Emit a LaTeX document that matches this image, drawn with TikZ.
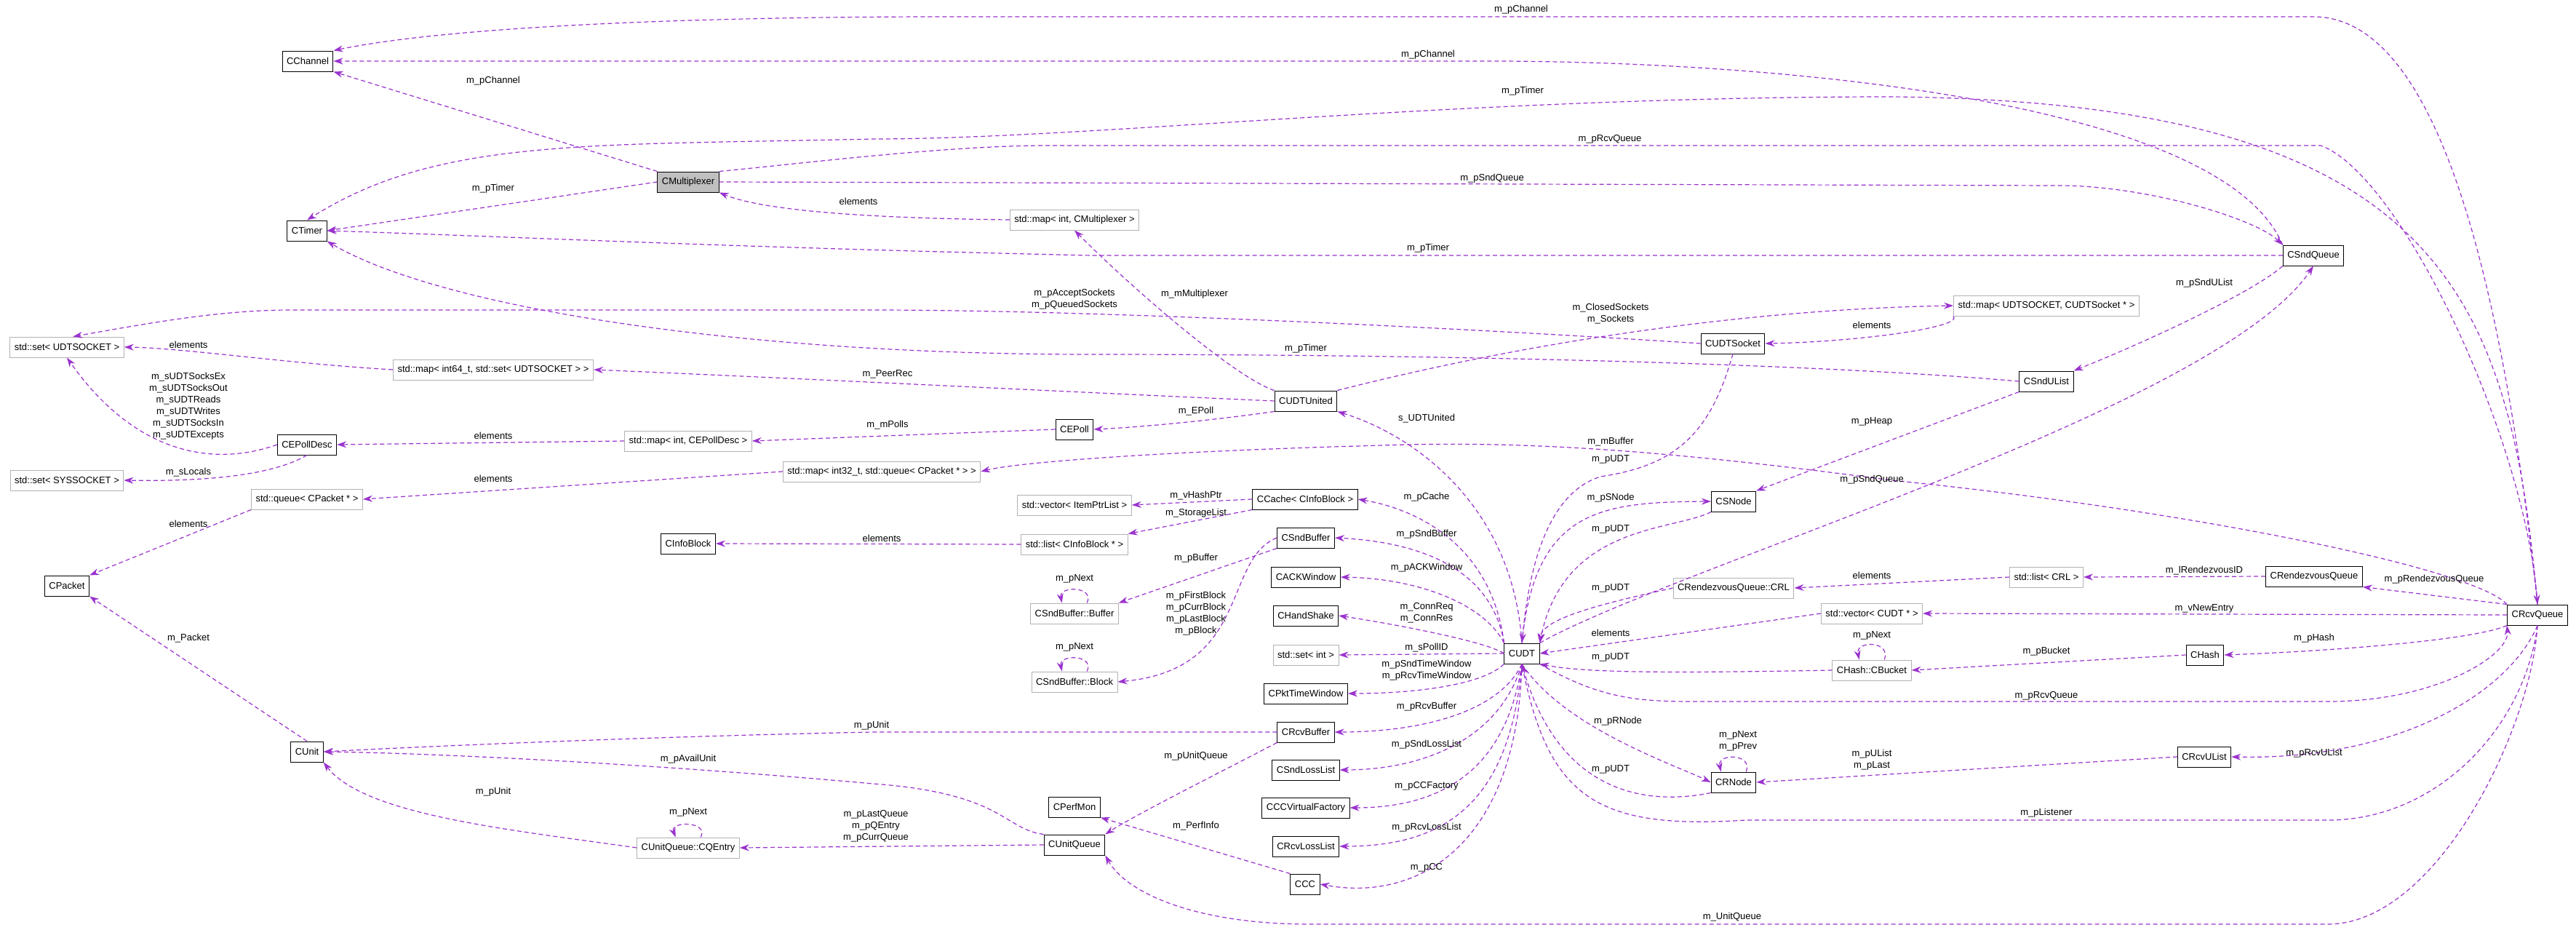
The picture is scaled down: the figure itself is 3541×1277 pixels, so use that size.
\documentclass[tikz,border=0pt]{standalone}
\usepackage{fontspec}
\setmainfont{Liberation Sans}
\usetikzlibrary{arrows.meta}
\definecolor{linkc}{HTML}{9A32CD}
\tikzset{
  cls/.style = {draw=black, line width=1pt, fill=white, minimum height=28pt, inner xsep=6pt, font=\fontsize{13}{15}\selectfont},
  tpl/.style = {cls, draw=black!30},
  rel/.style = {draw=linkc, dash pattern=on 6pt off 4pt, line width=1.2pt, -{Stealth[length=13pt,width=9pt]}},
  lbl/.style = {font=\fontsize{13}{16}\selectfont, inner sep=1pt, align=center}
}
\begin{document}
\begin{tikzpicture}[x=1pt, y=-1pt]
\useasboundingbox (0,0) rectangle (3541,1277);
\begin{scope}[every node/.style = {cls}]
\node (CChannel) at (423,84) {CChannel};
\node (CTimer) at (422,317) {CTimer};
\node[fill=black!25] (CMux) at (946,250) {CMultiplexer};
\node[tpl] (mapMux) at (1477,302) {std::map< int, CMultiplexer >};
\node (CSndQueue) at (3180,351) {CSndQueue};
\node[tpl] (setUDT) at (92,477) {std::set< UDTSOCKET >};
\node[tpl] (mapPeer) at (678,508) {std::map< int64\_t, std::set< UDTSOCKET > >};
\node (CUDTSocket) at (2382,472) {CUDTSocket};
\node[tpl] (mapSock) at (2813,420) {std::map< UDTSOCKET, CUDTSocket * >};
\node (CSndUList) at (2813,524) {CSndUList};
\node (CUDTUnited) at (1795,551) {CUDTUnited};
\node (CEPoll) at (1477,590) {CEPoll};
\node[tpl] (mapEPoll) at (946,606) {std::map< int, CEPollDesc >};
\node (CEPollDesc) at (422,611) {CEPollDesc};
\node[tpl] (setSys) at (92,660) {std::set< SYSSOCKET >};
\node[tpl] (mapBuf) at (1212,648) {std::map< int32\_t, std::queue< CPacket * > >};
\node[tpl] (queuePkt) at (422,686) {std::queue< CPacket * >};
\node[tpl] (vecHash) at (1477,694) {std::vector< ItemPtrList >};
\node (CCache) at (1794,686) {CCache< CInfoBlock >};
\node (CSNode) at (2383,689) {CSNode};
\node[tpl] (listInfo) at (1477,748) {std::list< CInfoBlock * >};
\node (CInfoBlock) at (946,747) {CInfoBlock};
\node (CSndBuffer) at (1795,739) {CSndBuffer};
\node (CACKWindow) at (1795,793) {CACKWindow};
\node[tpl] (Buffer) at (1477,843) {CSndBuffer::Buffer};
\node[tpl] (CRL) at (2383,808) {CRendezvousQueue::CRL};
\node[tpl] (listCRL) at (2813,793) {std::list< CRL >};
\node (CRendQ) at (3181,792) {CRendezvousQueue};
\node (CRcvQueue) at (3488,845) {CRcvQueue};
\node[tpl] (vecUDT) at (2573,843) {std::vector< CUDT * >};
\node (CHandShake) at (1795,846) {CHandShake};
\node (CUDT) at (2092,898) {CUDT};
\node[tpl] (setInt) at (1795,900) {std::set< int >};
\node[tpl] (CBucket) at (2573,921) {CHash::CBucket};
\node (CHash) at (3031,900) {CHash};
\node[tpl] (Block) at (1477,937) {CSndBuffer::Block};
\node (CPktTW) at (1795,953) {CPktTimeWindow};
\node (CPacket) at (92,805) {CPacket};
\node (CRcvBuffer) at (1795,1006) {CRcvBuffer};
\node (CUnit) at (422,1033) {CUnit};
\node (CSndLL) at (1795,1058) {CSndLossList};
\node (CRNode) at (2383,1075) {CRNode};
\node (CRcvUList) at (3030,1040) {CRcvUList};
\node (CPerfMon) at (1477,1109) {CPerfMon};
\node (CCCVF) at (1795,1110) {CCCVirtualFactory};
\node (CUnitQueue) at (1477,1161) {CUnitQueue};
\node (CRcvLL) at (1795,1163) {CRcvLossList};
\node[tpl] (CQEntry) at (946,1165) {CUnitQueue::CQEntry};
\node (CCC) at (1794,1215) {CCC};
\end{scope}
\begin{scope}[every path/.style = {rel}]
% multiplexer and queues
\path (CMux.north west) -- (CChannel.south east);
\path (CMux.west) -- (CTimer.east);
\path (CSndQueue.north west) .. controls (3050,130) and (2400,84) .. (2050,84) -- (CChannel.east);
\path (CRcvQueue.north) .. controls (3420,200) and (3300,23) .. (3180,23) -- (1300,23) .. controls (900,23) and (600,40) .. (CChannel.north east);
\path (CRcvQueue.north) .. controls (3450,400) and (3350,140) .. (2600,133) .. controls (2000,133) and (1500,191) .. (1200,191) .. controls (800,200) and (600,190) .. (CTimer.north);
\path (CMux.north east) .. controls (1100,225) and (1300,200) .. (1440,200) -- (3190,200) .. controls (3300,240) and (3470,600) .. (CRcvQueue.north);
\path (CMux.east) -- (2830,255) .. controls (2950,255) and (3100,300) .. (CSndQueue.north west);
\path (mapMux.west) .. controls (1200,300) and (1050,290) .. (CMux.south east);
\path (CSndQueue.west) -- (1500,351) .. controls (1000,340) and (700,325) .. (CTimer.east);
% sockets and polls
\path (CUDTUnited.north west) .. controls (1700,520) and (1560,400) .. (mapMux.south);
\path (CUDTSocket.west) .. controls (2000,450) and (1500,426) .. (1200,426) -- (400,426) .. controls (300,426) and (200,445) .. (setUDT.60);
\path (CUDTUnited.north east) .. controls (2100,470) and (2400,425) .. (mapSock.west);
\path (mapSock.south west) .. controls (2700,450) and (2550,470) .. (CUDTSocket.east);
\path (CSndUList.west) .. controls (2500,500) and (2000,487) .. (1500,487) .. controls (1000,487) and (600,420) .. (CTimer.south east);
\path (CSndQueue.south west) .. controls (3100,400) and (2950,470) .. (CSndUList.north east);
\path (mapPeer.west) .. controls (400,500) and (250,478) .. (setUDT.east);
\path (CUDTUnited.west) .. controls (1500,540) and (1100,520) .. (mapPeer.east);
\path (CUDTUnited.south west) .. controls (1650,580) and (1550,588) .. (CEPoll.east);
\path (CEPoll.west) -- (mapEPoll.east);
\path (mapEPoll.west) -- (CEPollDesc.east);
\path (CEPollDesc.west) .. controls (300,640) and (190,630) .. (setUDT.south);
\path (CEPollDesc.south) .. controls (380,650) and (300,662) .. (setSys.east);
% buffers and packets
\path (CRcvQueue.north west) .. controls (3400,780) and (3000,700) .. (2600,660) .. controls (2300,620) and (2100,605) .. (1900,612) .. controls (1600,620) and (1400,635) .. (mapBuf.east);
\path (mapBuf.west) -- (queuePkt.east);
\path (queuePkt.south west) -- (CPacket.north east);
\path (CUDT.north) .. controls (2080,700) and (1950,600) .. (CUDTUnited.south east);
\path (CUDTSocket.south) .. controls (2350,600) and (2300,640) .. (2200,655) .. controls (2120,680) and (2100,800) .. (CUDT.north);
\path (CUDT.north east) .. controls (2300,780) and (3050,560) .. (CSndQueue.south);
\path (CSndUList.south west) -- (CSNode.north east);
\path (CUDT.north) .. controls (2110,700) and (2200,690) .. (CSNode.west);
\path (CSNode.south west) .. controls (2300,730) and (2150,720) .. (CUDT.north east);
\path (CUDT.north west) .. controls (2050,750) and (1950,700) .. (CCache.east);
\path (CCache.west) -- (vecHash.east);
\path (CCache.south west) -- (listInfo.north east);
\path (listInfo.west) -- (CInfoBlock.east);
\path (CUDT.north west) .. controls (2050,780) and (1950,745) .. (CSndBuffer.east);
\path (CSndBuffer.south west) -- (Buffer.north east);
\path (CSndBuffer.west) .. controls (1680,770) and (1720,920) .. (Block.east);
\path (Buffer.40) .. controls (1505,805) and (1455,805) .. (Buffer.140);
\path (Block.40) .. controls (1505,899) and (1455,899) .. (Block.140);
\path (CUDT.north west) .. controls (2040,830) and (1950,795) .. (CACKWindow.east);
\path (CUDT.west) .. controls (2040,880) and (1900,855) .. (CHandShake.east);
\path (CUDT.west) -- (setInt.east);
\path (CUDT.south west) .. controls (2040,940) and (1950,953) .. (CPktTW.east);
\path (CUDT.south) .. controls (2060,980) and (1950,1006) .. (CRcvBuffer.east);
\path (CUDT.south) .. controls (2060,1020) and (1950,1058) .. (CSndLL.east);
\path (CUDT.south) .. controls (2070,1060) and (1980,1110) .. (CCCVF.east);
\path (CUDT.south) .. controls (2075,1110) and (1980,1163) .. (CRcvLL.east);
\path (CUDT.south) .. controls (2085,1160) and (1950,1240) .. (CCC.east);
% units
\path (CRcvBuffer.west) -- (1200,1006) .. controls (900,1012) and (600,1025) .. (CUnit.east);
\path (CRcvBuffer.south west) .. controls (1680,1060) and (1560,1120) .. (CUnitQueue.north east);
\path (CUnitQueue.north west) .. controls (1380,1140) and (1380,1090) .. (1200,1077) .. controls (900,1050) and (600,1035) .. (CUnit.east);
\path (CUnitQueue.west) -- (CQEntry.east);
\path (CQEntry.west) .. controls (700,1140) and (500,1120) .. (CUnit.south east);
\path (CQEntry.40) .. controls (975,1128) and (920,1128) .. (CQEntry.140);
\path (CUnit.north) -- (CPacket.south east);
\path (CCC.north west) -- (CPerfMon.south east);
\path (CRcvQueue.south) .. controls (3480,1000) and (3350,1270) .. (3200,1270) -- (1800,1270) .. controls (1650,1270) and (1550,1230) .. (CUnitQueue.south east);
% receiving side
\path (CRL.west) .. controls (2200,830) and (2120,850) .. (CUDT.north east);
\path (listCRL.west) -- (CRL.east);
\path (CRendQ.west) -- (listCRL.east);
\path (CRcvQueue.north west) -- (CRendQ.south east);
\path (vecUDT.west) -- (CUDT.east);
\path (CRcvQueue.west) -- (vecUDT.east);
\path (CBucket.west) .. controls (2300,925) and (2180,925) .. (CUDT.south east);
\path (CHash.west) -- (CBucket.east);
\path (CRcvQueue.south west) .. controls (3400,880) and (3200,895) .. (CHash.east);
\path (CBucket.40) .. controls (2600,880) and (2550,880) .. (CBucket.140);
\path (CUDT.south east) .. controls (2200,960) and (2250,964) .. (2330,964) -- (3200,964) .. controls (3350,964) and (3450,900) .. (CRcvQueue.south west);
\path (CUDT.south) .. controls (2150,1000) and (2300,1050) .. (CRNode.west);
\path (CRNode.south west) .. controls (2250,1110) and (2140,1080) .. (CUDT.south);
\path (CRNode.40) .. controls (2410,1035) and (2360,1035) .. (CRNode.140);
\path (CRcvUList.west) -- (CRNode.east);
\path (CRcvQueue.south) .. controls (3450,950) and (3300,1045) .. (CRcvUList.east);
\path (CRcvQueue.south) .. controls (3470,1000) and (3350,1127) .. (3200,1127) -- (2400,1127) .. controls (2200,1140) and (2130,1100) .. (CUDT.south);
\end{scope}
\begin{scope}[every node/.style = {lbl}]
\node (l1) at (678,111) {m\_pChannel};
\node (l2) at (678,259) {m\_pTimer};
\node (l3) at (1963,75) {m\_pChannel};
\node (l4) at (2091,13) {m\_pChannel};
\node (l5) at (2093,125) {m\_pTimer};
\node (l6) at (2213,191) {m\_pRcvQueue};
\node (l7) at (2051,245) {m\_pSndQueue};
\node (l8) at (1180,277) {elements};
\node (l9) at (1963,341) {m\_pTimer};
\node (l10) at (1642,404) {m\_mMultiplexer};
\node (l11) at (1477,411) {m\_pAcceptSockets\\m\_pQueuedSockets};
\node (l12) at (2214,431) {m\_ClosedSockets\\m\_Sockets};
\node (l13) at (2573,447) {elements};
\node (l14) at (1795,479) {m\_pTimer};
\node (l15) at (3030,389) {m\_pSndUList};
\node (l16) at (259,474) {elements};
\node (l17) at (1220,514) {m\_PeerRec};
\node (l18) at (1644,565) {m\_EPoll};
\node (l19) at (1220,584) {m\_mPolls};
\node (l20) at (678,599) {elements};
\node (l21) at (259,558) {m\_sUDTSocksEx\\m\_sUDTSocksOut\\m\_sUDTReads\\m\_sUDTWrites\\m\_sUDTSocksIn\\m\_sUDTExcepts};
\node (l22) at (259,649) {m\_sLocals};
\node (l23) at (2214,607) {m\_mBuffer};
\node (l24) at (678,658) {elements};
\node (l25) at (259,720) {elements};
\node (l26) at (1961,575) {s\_UDTUnited};
\node (l27) at (2214,631) {m\_pUDT};
\node (l28) at (2573,659) {m\_pSndQueue};
\node (l29) at (2573,579) {m\_pHeap};
\node (l30) at (2214,684) {m\_pSNode};
\node (l31) at (2214,727) {m\_pUDT};
\node (l32) at (1961,683) {m\_pCache};
\node (l33) at (1644,681) {m\_vHashPtr};
\node (l34) at (1644,705) {m\_StorageList};
\node (l35) at (1212,740) {elements};
\node (l36) at (1961,734) {m\_pSndBuffer};
\node (l37) at (1644,767) {m\_pBuffer};
\node (l38) at (1644,843) {m\_pFirstBlock\\m\_pCurrBlock\\m\_pLastBlock\\m\_pBlock};
\node (l39) at (1477,795) {m\_pNext};
\node (l40) at (1477,889) {m\_pNext};
\node (l41) at (1961,780) {m\_pACKWindow};
\node (l42) at (1961,842) {m\_ConnReq\\m\_ConnRes};
\node (l43) at (1961,890) {m\_sPollID};
\node (l44) at (1961,921) {m\_pSndTimeWindow\\m\_pRcvTimeWindow};
\node (l45) at (1961,971) {m\_pRcvBuffer};
\node (l46) at (1961,1023) {m\_pSndLossList};
\node (l47) at (1961,1080) {m\_pCCFactory};
\node (l48) at (1961,1137) {m\_pRcvLossList};
\node (l49) at (1961,1192) {m\_pCC};
\node (l50) at (1198,997) {m\_pUnit};
\node (l51) at (1644,1039) {m\_pUnitQueue};
\node (l52) at (946,1043) {m\_pAvailUnit};
\node (l53) at (1204,1135) {m\_pLastQueue\\m\_pQEntry\\m\_pCurrQueue};
\node (l54) at (678,1088) {m\_pUnit};
\node (l55) at (946,1116) {m\_pNext};
\node (l56) at (259,877) {m\_Packet};
\node (l57) at (1644,1135) {m\_PerfInfo};
\node (l58) at (2381,1260) {m\_UnitQueue};
\node (l59) at (2214,808) {m\_pUDT};
\node (l60) at (2573,791) {elements};
\node (l61) at (3030,784) {m\_lRendezvousID};
\node (l62) at (3346,796) {m\_pRendezvousQueue};
\node (l63) at (2214,870) {elements};
\node (l64) at (3030,836) {m\_vNewEntry};
\node (l65) at (2214,903) {m\_pUDT};
\node (l66) at (2813,895) {m\_pBucket};
\node (l67) at (3181,877) {m\_pHash};
\node (l68) at (2573,873) {m\_pNext};
\node (l69) at (2813,956) {m\_pRcvQueue};
\node (l70) at (2224,991) {m\_pRNode};
\node (l71) at (2214,1057) {m\_pUDT};
\node (l72) at (2389,1018) {m\_pNext\\m\_pPrev};
\node (l73) at (2573,1044) {m\_pUList\\m\_pLast};
\node (l74) at (3181,1035) {m\_pRcvUList};
\node (l75) at (2813,1117) {m\_pListener};
\end{scope}
\end{tikzpicture}
\end{document}
